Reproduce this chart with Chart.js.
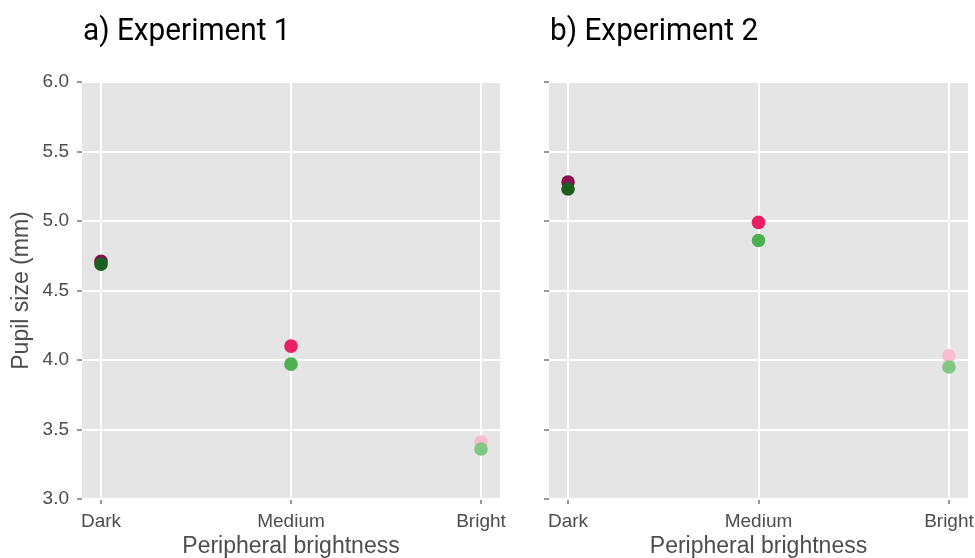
<!DOCTYPE html>
<html>
<head>
<meta charset="utf-8">
<script src="https://cdn.jsdelivr.net/npm/chart.js@4"></script>
<style>
  html,body{margin:0;padding:0;background:#fff;}
  #wrap{position:relative;width:975px;height:558px;overflow:hidden;}
  .box{position:absolute;top:0;height:558px;}
</style>
</head>
<body>
<div id="wrap">
  <div class="box" style="left:0;width:510px;"><canvas id="c1"></canvas></div>
  <div class="box" style="left:510px;width:465px;"><canvas id="c2"></canvas></div>
</div>
<script>
const categories = ['Dark', 'Medium', 'Bright'];
const yTicks = [3.0, 3.5, 4.0, 4.5, 5.0, 5.5, 6.0];
const titles = ['a) Experiment 1', 'b) Experiment 2'];
const exp1Pink  = [4.71, 4.10, 3.41];
const exp1Green = [4.69, 3.97, 3.36];
const exp2Pink  = [5.28, 4.99, 4.03];
const exp2Green = [5.23, 4.86, 3.95];
const pinkColors  = ['#880E4F', '#E91E63', '#F8BBD0'];
const greenColors = ['#1B5E20', '#4CAF50', '#81C784'];

const FONT = "'Liberation Sans', Arial, sans-serif";
const TITLE_FONT = "Roboto, sans-serif";

const bgPlugin = {
  id: 'panelBg',
  beforeDraw(chart) {
    const a = chart.chartArea, ctx = chart.ctx;
    ctx.save();
    ctx.fillStyle = '#E5E5E5';
    ctx.fillRect(a.left, a.top, a.right - a.left, a.bottom - a.top);
    ctx.restore();
  },
  afterDraw(chart) {
    const a = chart.chartArea, ctx = chart.ctx;
    ctx.save();
    ctx.fillStyle = '#000';
    ctx.font = "31px " + TITLE_FONT;
    ctx.textBaseline = 'alphabetic';
    ctx.textAlign = 'left';
    ctx.translate(a.left + 1, 40);
    ctx.scale(0.96, 1.04);
    ctx.fillText(chart.options.plugins.panelBg.title, 0, 0);
    ctx.restore();
  }
};

function toPoints(vals) { return vals.map((v, i) => ({x: i, y: v})); }

function makeChart(id, pink, green, title, showY, yWidth, padRight) {
  return new Chart(document.getElementById(id), {
    type: 'scatter',
    data: {
      datasets: [
        {data: toPoints(green), backgroundColor: greenColors, borderWidth: 0, pointRadius: 6.8, order: 0},
        {data: toPoints(pink), backgroundColor: pinkColors, borderWidth: 0, pointRadius: 6.8, order: 1}
      ]
    },
    options: {
      responsive: true,
      maintainAspectRatio: false,
      animation: false,
      layout: {padding: {top: 82, right: padRight, left: 0, bottom: 0}},
      plugins: {legend: {display: false}, tooltip: {enabled: false}, title: {display: false},
        panelBg: {title: title}},
      scales: {
        x: {
          type: 'linear', min: -0.1, max: 2.1,
          afterBuildTicks(s) { s.ticks = categories.map((c, i) => ({value: i})); },
          afterFit(s) { s.height = 59; s.paddingLeft = 0; s.paddingRight = 0; },
          ticks: {
            callback: (v) => categories[v],
            color: '#4D4D4D', font: {family: FONT, size: 19}, padding: 6, maxRotation: 0, autoSkip: false
          },
          grid: {color: '#FFFFFF', lineWidth: 2, drawTicks: true, tickLength: 5, tickColor: '#333333', tickWidth: 1},
          border: {display: false},
          title: {display: true, text: 'Peripheral brightness', color: '#4D4D4D',
            font: {family: FONT, size: 23, lineHeight: 1.0}, padding: {top: 0, bottom: 0}}
        },
        y: {
          type: 'linear', min: 3.0, max: 6.0,
          afterBuildTicks(s) { s.ticks = yTicks.map(v => ({value: v})); },
          afterFit(s) { s.width = yWidth; s.paddingTop = 0; s.paddingBottom = 0; },
          ticks: {
            display: true,
            callback: (v) => showY ? v.toFixed(1) : '',
            color: '#4D4D4D', font: {family: FONT, size: 19}, padding: 8
          },
          grid: {color: '#FFFFFF', lineWidth: 2, drawTicks: true, tickLength: 5, tickColor: '#333333', tickWidth: 1},
          border: {display: false},
          title: {display: showY, text: 'Pupil size (mm)', color: '#4D4D4D',
            font: {family: FONT, size: 23, lineHeight: 1.0}, padding: {top: 10.5, bottom: 0}}
        }
      }
    },
    plugins: [bgPlugin]
  });
}

makeChart('c1', exp1Pink, exp1Green, titles[0], true, 82, 10);
makeChart('c2', exp2Pink, exp2Green, titles[1], false, 39, 7);
</script>
</body>
</html>
